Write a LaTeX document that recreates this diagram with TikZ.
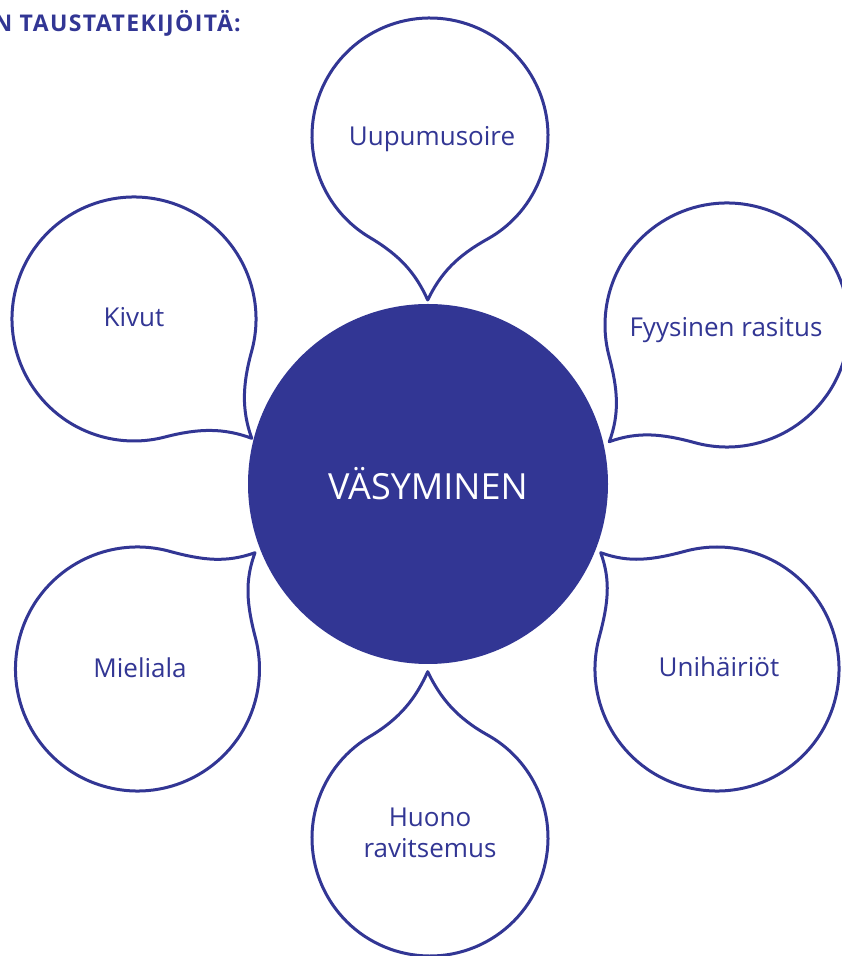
\documentclass[tikz,border=0pt]{standalone}
\usepackage{fontspec}
\setmainfont{Open Sans}
\usetikzlibrary{calc}
\definecolor{vblue}{RGB}{50,54,148}
\def\bth{30}\def\ba{35}\def\bb{30}\def\be{25}
\newcommand\speechbubble[3]{%
  \draw[bubble] let \p1=($(#2)-(#1)$), \n1={atan2(\y1,\x1)} in
    ($(#1)+(\n1+\bth:#3)$) arc[start angle=\n1+\bth, end angle=\n1+360-\bth, radius=#3]
    .. controls +(\n1-\bth+90:\ba) and +(\n1+180+\be:\bb) .. (#2)
    .. controls +(\n1+180-\be:\bb) and +(\n1+\bth-90:\ba) .. ($(#1)+(\n1+\bth:#3)$);
}
\begin{document}
\begin{tikzpicture}[x=1pt,y=1pt,
  bubble/.style={draw=vblue, line width=3pt, fill=white, line join=round},
  lbl/.style={text=vblue, font=\fontsize{26}{31}\selectfont, align=center, inner sep=0}]
\useasboundingbox (0,0) rectangle (841,956);
% centres and tips
\coordinate (c1) at (430,820);   \coordinate (t1) at (427.7,656);
\coordinate (c2) at (134,637);   \coordinate (t2) at (251.7,517.7);
\coordinate (c3) at (727,631);   \coordinate (t3) at (609.3,514.3);
\coordinate (c4) at (717,287);   \coordinate (t4) at (600.7,403.3);
\coordinate (c5) at (137.5,287); \coordinate (t5) at (255,403.3);
\coordinate (c6) at (430,118);   \coordinate (t6) at (427.7,284.3);
\speechbubble{c1}{t1}{118}
\speechbubble{c2}{t2}{122}
\speechbubble{c3}{t3}{122}
\speechbubble{c4}{t4}{122}
\speechbubble{c5}{t5}{122}
\speechbubble{c6}{t6}{118}
\node[circle, fill=vblue, minimum size=360pt, inner sep=0, text=white,
      font=\fontsize{36}{40}\selectfont] (core) at (428,472) {VÄSYMINEN};
\node[lbl] (n1) at (432,817) {Uupumusoire};
\node[lbl] (n2) at (134,639) {Kivut};
\node[lbl] (n3) at (726,626) {Fyysinen rasitus};
\node[lbl] (n4) at (719,289) {Unihäiriöt};
\node[lbl] (n5) at (140,288) {Mieliala};
\node[lbl] (n6) at (430,123) {Huono\\ravitsemus};
\node[anchor=base east, text=vblue, inner sep=0,
      font=\bfseries\fontsize{23}{26}\selectfont\addfontfeatures{LetterSpace=6}] (title) at (241,924) {N TAUSTATEKIJÖITÄ:};
\end{tikzpicture}
\end{document}
